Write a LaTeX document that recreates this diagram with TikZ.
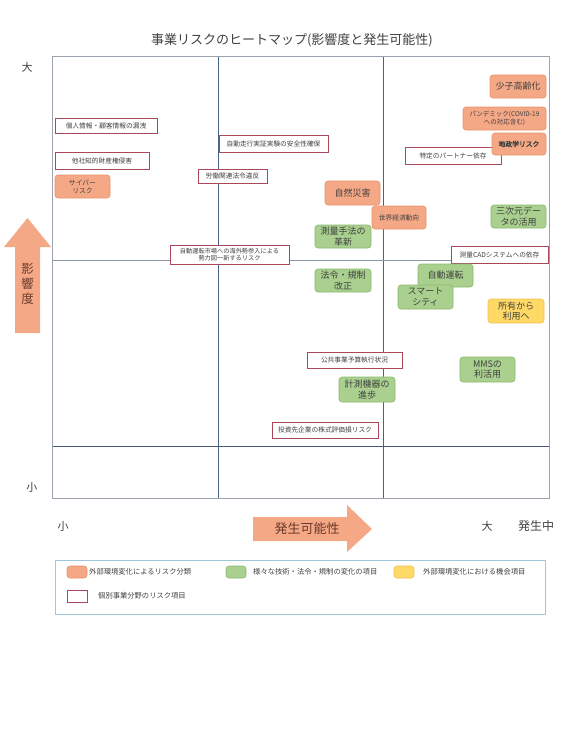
\documentclass[tikz,border=0pt]{standalone}
\usepackage{fontspec}
\setmainfont{Noto Sans CJK JP}
\newfontfamily\cjkbold[FakeBold=2.5]{Noto Sans CJK JP}
\definecolor{orF}{HTML}{F4A886}
\definecolor{orD}{HTML}{E8906C}
\definecolor{grF}{HTML}{A9D08E}
\definecolor{grD}{HTML}{8CB86E}
\definecolor{yeF}{HTML}{FFD966}
\definecolor{yeD}{HTML}{F0C050}
\definecolor{rdD}{HTML}{A8485A}
\definecolor{txt}{HTML}{404040}
\definecolor{gridO}{HTML}{9AA3AE}
\definecolor{gridI}{HTML}{4A6385}
\definecolor{legB}{HTML}{9CC8DA}
\definecolor{arT}{HTML}{6B3A2A}
\tikzset{
  fs/.code={\pgfmathsetmacro\fsb{#1*1.18}\edef\fsx{\noexpand\fontsize{#1}{\fsb}\noexpand\selectfont}\pgfkeysalso{/tikz/font/.expand once=\fsx}},
  base/.style={inner sep=0pt, align=center, text=txt},
  orbox/.style={base, draw=orD, fill=orF, rounded corners=3pt, line width=0.6pt},
  grbox/.style={base, draw=grD, fill=grF, rounded corners=3pt, line width=0.6pt},
  yebox/.style={base, draw=yeD, fill=yeF, rounded corners=3pt, line width=0.6pt},
  rdbox/.style={base, draw=rdD, fill=white, line width=0.6pt, fs=6.7},
  big/.style={fs=9},
  lbl/.style={inner sep=0pt, text=txt, fs=11},
  legt/.style={inner sep=0pt, anchor=west, text=txt, fs=7.3},
}
\begin{document}
\begin{tikzpicture}[x=1pt,y=-1pt]
\useasboundingbox (0,0) rectangle (567,740);
% grid
\draw[gridI, line width=0.7pt] (218,56) -- (218,498);
\draw[gridI, line width=0.7pt] (383,56) -- (383,498);
\draw[gridO!80!gridI, line width=0.7pt] (52,260) -- (549,260);
\draw[gridI!90!black, line width=1pt] (52,446) -- (549,446);
\draw[gridO, line width=1pt] (52,56) rectangle (549,498);
% title
\node[inner sep=0pt, text=txt, fs=13] (title) at (292,40) {事業リスクのヒートマップ(影響度と発生可能性)};
% axis labels
\node[lbl] (dai1) at (27,67) {大};
\node[lbl] (sho1) at (32,487) {小};
\node[lbl] (sho2) at (63,526) {小};
\node[lbl] (dai2) at (487,526) {大};
\node[lbl, fs=12] (hassei) at (536,526) {発生中};
% arrows
\fill[orF] (15,333) -- (15,247) -- (4,247) -- (27.5,218) -- (51,247) -- (40,247) -- (40,333) -- cycle;
\node[inner sep=0pt, align=center, text=arT, font=\fontsize{12.5}{15}\selectfont] (eikyo) at (27.5,284) {影\\響\\度};
\fill[orF] (253,517) -- (347,517) -- (347,505) -- (372,529) -- (347,552) -- (347,541) -- (253,541) -- cycle;
\node[inner sep=0pt, text=arT, fs=13] (kanou) at (307,529) {発生可能性};
% red boxes
\node[rdbox, minimum width=102pt, minimum height=15pt] (kojin) at (106,125.5) {個人情報・顧客情報の漏洩};
\node[rdbox, minimum width=94pt, minimum height=17pt] (tasha) at (102,160.5) {他社知的財産権侵害};
\node[rdbox, minimum width=69pt, minimum height=14pt] (roudou) at (232.5,176) {労働関連法令違反};
\node[rdbox, minimum width=109pt, minimum height=17pt] (jikken) at (273.5,143.5) {自動走行実証実験の安全性確保};
\node[rdbox, minimum width=119pt, minimum height=19pt, font=\fontsize{6.2}{7.2}\selectfont] (shijo) at (229.5,254.5) {自動運転市場への海外勢参入による\\勢力図一新するリスク};
\node[rdbox, minimum width=96pt, minimum height=17pt] (partner) at (453,155.5) {特定のパートナー依存};
\node[rdbox, minimum width=97pt, minimum height=17pt] (cad) at (499.5,254.5) {測量CADシステムへの依存};
\node[rdbox, minimum width=95pt, minimum height=16pt] (kokyo) at (354.5,360) {公共事業予算執行状況};
\node[rdbox, minimum width=106pt, minimum height=16pt] (toushi) at (325,430) {投資先企業の株式評価損リスク};
% orange boxes
\node[orbox, big, minimum width=56pt, minimum height=23pt] (shoshi) at (518,86.5) {少子高齢化};
\node[orbox, fs=6.5, minimum width=83pt, minimum height=23pt] (pandemic) at (504.5,118.5) {パンデミック(COVID-19\\への対応含む)};
\node[orbox, font=\cjkbold\fontsize{6.8}{8}\selectfont, minimum width=54pt, minimum height=22pt] (chisei) at (519,144) {地政学リスク};
\node[orbox, big, minimum width=55pt, minimum height=24pt] (shizen) at (352.5,193) {自然災害};
\node[orbox, fs=6.7, minimum width=54pt, minimum height=23pt] (sekai) at (399,217.5) {世界経済動向};
\node[orbox, fs=6.8, minimum width=55pt, minimum height=23pt] (cyber) at (82.5,186.5) {サイバー\\リスク};
% green boxes
\node[grbox, big, minimum width=55pt, minimum height=23pt] (sanji) at (518.5,216.5) {三次元デー\\タの活用};
\node[grbox, big, minimum width=56pt, minimum height=23pt] (sokuryo) at (343,236.5) {測量手法の\\革新};
\node[grbox, big, minimum width=56pt, minimum height=23pt] (hourei) at (343,280.5) {法令・規制\\改正};
\node[grbox, big, minimum width=55pt, minimum height=23pt] (jido) at (445.5,275.5) {自動運転};
\node[grbox, big, minimum width=55pt, minimum height=24pt] (smart) at (425.5,297) {スマート\\シティ};
\node[grbox, big, minimum width=55pt, minimum height=25pt] (mms) at (487.5,369.5) {MMSの\\利活用};
\node[grbox, big, minimum width=56pt, minimum height=25pt] (keisoku) at (367,389.5) {計測機器の\\進歩};
% yellow box
\node[yebox, big, minimum width=56pt, minimum height=24pt] (shoyu) at (516,311) {所有から\\利用へ};
% legend
\node[draw=legB, line width=0.8pt, minimum width=490pt, minimum height=54pt, inner sep=0pt] (legend) at (300,587) {};
\node[orbox, minimum width=20pt, minimum height=12pt] (lg1) at (77,572) {};
\node[legt] (lt1) at (89,572) {外部環境変化によるリスク分類};
\node[grbox, minimum width=20pt, minimum height=12pt] (lg2) at (236,572) {};
\node[legt] (lt2) at (253,572) {様々な技術・法令・規制の変化の項目};
\node[yebox, minimum width=20pt, minimum height=12pt] (lg3) at (404,572) {};
\node[legt] (lt3) at (423,572) {外部環境変化における機会項目};
\node[rdbox, minimum width=20pt, minimum height=12pt] (lg4) at (77,596) {};
\node[legt] (lt4) at (98,596) {個別事業分野のリスク項目};
\end{tikzpicture}
\end{document}
